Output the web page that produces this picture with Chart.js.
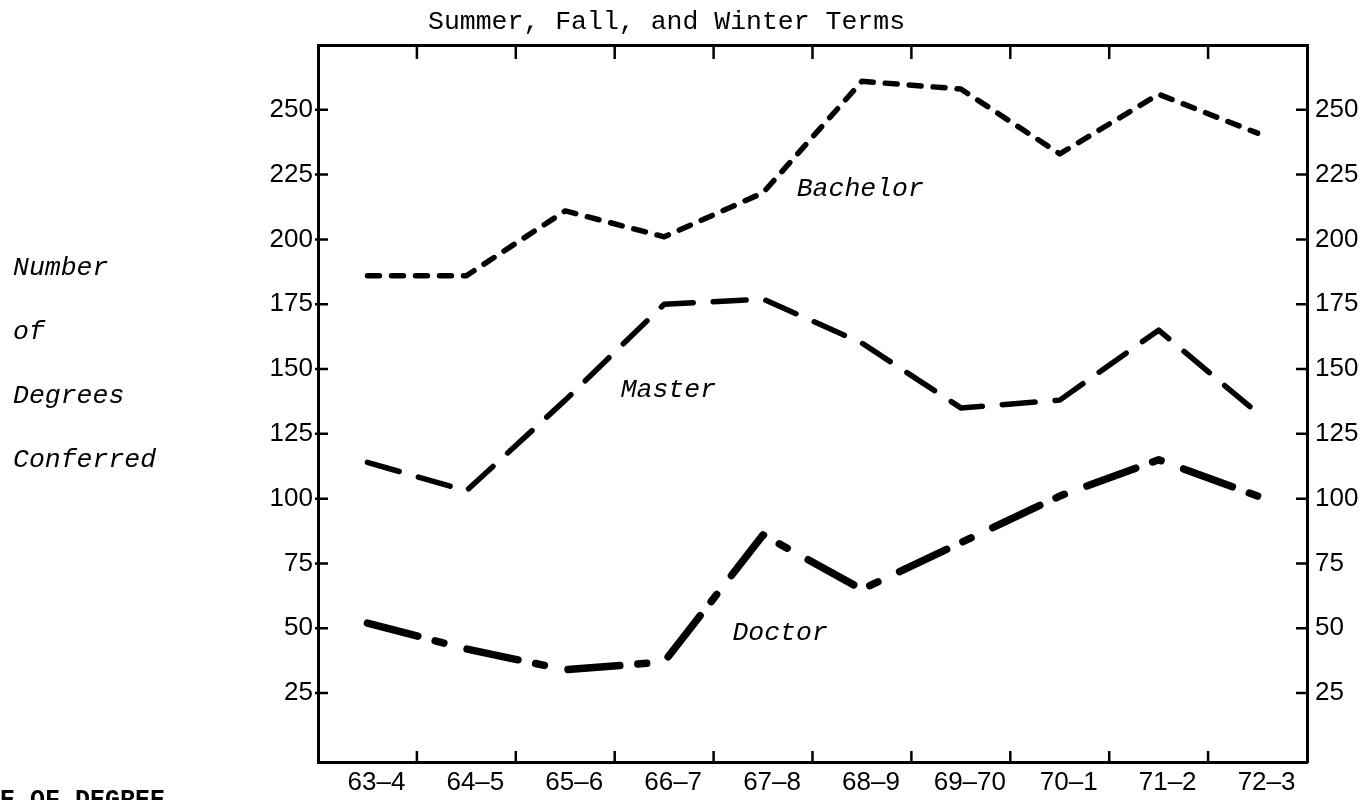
<!DOCTYPE html>
<html>
<head>
<meta charset="utf-8">
<title>Number of Degrees Conferred</title>
<script src="https://cdn.jsdelivr.net/npm/chart.js@4.4.1/dist/chart.umd.min.js"></script>
<style>
  html, body { margin: 0; padding: 0; background: #fff; }
  #wrap { position: relative; width: 1364px; height: 800px; overflow: hidden; }
  #chart { position: absolute; left: 0; top: 0; }
  .txt { position: absolute; font-family: 'Liberation Mono', monospace; font-size: 26px; line-height: 26px; color: #000; white-space: pre; }
  .it { font-style: italic; font-size: 26.5px; }
</style>
</head>
<body>
<div id="wrap">
  <canvas id="chart" width="1364" height="800"></canvas>
  <div class="txt" style="left:428px; top:9px; font-size:26.5px">Summer, Fall, and Winter Terms</div>
  <div class="txt it" style="left:13px; top:255px">Number</div>
  <div class="txt it" style="left:13px; top:319px">of</div>
  <div class="txt it" style="left:13px; top:383px">Degrees</div>
  <div class="txt it" style="left:13px; top:447px">Conferred</div>
  <div class="txt" style="left:0px; top:788px; font-size:25px; font-weight:bold">E OF DEGREE</div>
</div>

<script>
// ── Data ───────────────────────────────────────────────────────
const categories = ['63–4', '64–5', '65–6', '66–7', '67–8', '68–9', '69–70', '70–1', '71–2', '72–3'];
const bachelor   = [186, 186, 211, 201, 218, 261, 258, 233, 256, 241];
const master     = [114, 103, 138, 175, 177, 160, 135, 138, 165, 133];
const doctor     = [52, 42, 34, 37, 86, 65, 83, 101, 115, 101];
const yTicks     = [25, 50, 75, 100, 125, 150, 175, 200, 225, 250];

// labels written next to each curve (category index, value)
const curveLabels = [
  { text: 'Bachelor', at: 4.34, value: 216.8 },
  { text: 'Master',   at: 2.56, value: 139.2 },
  { text: 'Doctor',   at: 3.69, value: 45.5 },
];

// ── Plugin: inward tick marks + curve labels ───────────────────
const innerTicks = {
  id: 'innerTicks',
  afterDraw(chart) {
    const { ctx, chartArea: a, scales: { x, y } } = chart;
    ctx.save();
    ctx.strokeStyle = '#000';
    ctx.lineWidth = 2.5;
    ctx.beginPath();
    yTicks.forEach(v => {
      const py = y.getPixelForValue(v);
      ctx.moveTo(a.left - 3, py);  ctx.lineTo(a.left + 10, py);
      ctx.moveTo(a.right - 11, py); ctx.lineTo(a.right, py);
    });
    for (let i = 1; i < categories.length; i++) {
      const px = (x.getPixelForValue(i - 1) + x.getPixelForValue(i)) / 2;
      ctx.moveTo(px, a.top);    ctx.lineTo(px, a.top + 14);
      ctx.moveTo(px, a.bottom); ctx.lineTo(px, a.bottom - 11);
    }
    ctx.stroke();

    ctx.fillStyle = '#000';
    ctx.font = 'italic 26.5px "Liberation Mono", monospace';
    ctx.textAlign = 'left';
    ctx.textBaseline = 'alphabetic';
    curveLabels.forEach(l => {
      ctx.fillText(l.text, x.getPixelForValue(l.at), y.getPixelForValue(l.value));
    });
    ctx.restore();
  }
};

// ── Chart ──────────────────────────────────────────────────────
const tickFont = { family: '"Liberation Sans", Arial, sans-serif', size: 26 };
const axisBorder = { display: true, color: '#000', width: 3 };
const noGrid = { display: false, drawOnChartArea: false, drawTicks: false };

new Chart(document.getElementById('chart'), {
  type: 'line',
  data: {
    labels: categories,
    datasets: [
      {
        label: 'Bachelor', data: bachelor,
        borderColor: '#000', borderWidth: 5.5, borderDash: [12, 12],
        borderCapStyle: 'round', borderJoinStyle: 'round',
        pointRadius: 0, tension: 0, fill: false,
      },
      {
        label: 'Master', data: master,
        borderColor: '#000', borderWidth: 5.5, borderDash: [33, 20],
        borderCapStyle: 'round', borderJoinStyle: 'round',
        pointRadius: 0, tension: 0, fill: false,
      },
      {
        label: 'Doctor', data: doctor,
        borderColor: '#000', borderWidth: 7.5, borderDash: [52, 18, 9, 24],
        borderCapStyle: 'round', borderJoinStyle: 'round',
        pointRadius: 0, tension: 0, fill: false,
      },
    ],
  },
  options: {
    responsive: false,
    animation: false,
    events: [],
    layout: { padding: 0 },
    plugins: {
      legend: { display: false },
      tooltip: { enabled: false },
    },
    scales: {
      x: {
        type: 'category', position: 'bottom', offset: true,
        grid: noGrid, border: axisBorder,
        ticks: { color: '#000', font: tickFont, padding: 5, maxRotation: 0, autoSkip: false, labelOffset: 9 },
        afterFit: s => { s.height = 38; },
      },
      x2: {
        type: 'category', position: 'top', offset: true,
        grid: noGrid, border: axisBorder,
        ticks: { display: false },
        afterFit: s => { s.height = 45; },
      },
      y: {
        position: 'left', min: -1.6, max: 275,
        grid: noGrid, border: axisBorder,
        afterBuildTicks: s => { s.ticks = yTicks.map(v => ({ value: v })); },
        ticks: { color: '#000', font: tickFont, padding: 5 },
        afterFit: s => { s.width = 318; },
      },
      y2: {
        position: 'right', min: -1.6, max: 275,
        grid: noGrid, border: axisBorder,
        afterBuildTicks: s => { s.ticks = yTicks.map(v => ({ value: v })); },
        ticks: { color: '#000', font: tickFont, padding: 8 },
        afterFit: s => { s.width = 57; },
      },
    },
  },
  plugins: [innerTicks],
});
</script>
</body>
</html>
